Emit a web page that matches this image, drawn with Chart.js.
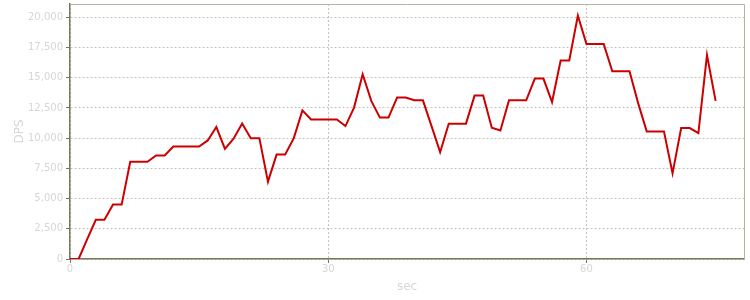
<!DOCTYPE html>
<html>
<head>
<meta charset="utf-8">
<script src="https://cdn.jsdelivr.net/npm/chart.js@4"></script>
<style>
	html, body { margin: 0; padding: 0; background: #fff; }
	#wrap { width: 750px; height: 300px; }
</style>
</head>
<body>
<div id="wrap"><canvas id="dpsChart"></canvas></div>
<script>
// seconds 0..75
const seconds = [
	0, 1, 2, 3, 4, 5, 6, 7, 8, 9, 10, 11, 12, 13, 14, 15, 16, 17, 18, 19,
	20, 21, 22, 23, 24, 25, 26, 27, 28, 29, 30, 31, 32, 33, 34, 35, 36, 37, 38, 39,
	40, 41, 42, 43, 44, 45, 46, 47, 48, 49, 50, 51, 52, 53, 54, 55, 56, 57, 58, 59,
	60, 61, 62, 63, 64, 65, 66, 67, 68, 69, 70, 71, 72, 73, 74, 75
];
const dps = [
	0, 0, 1650, 3250, 3250, 4500, 4500, 8050, 8050, 8050,
	8560, 8560, 9310, 9310, 9310, 9310, 9810, 10920, 9120, 9950,
	11220, 10000, 10000, 6400, 8640, 8640, 10000, 12300, 11550, 11550,
	11550, 11550, 11000, 12530, 15290, 13080, 11700, 11700, 13360, 13360,
	13130, 13130, 11000, 8840, 11200, 11200, 11200, 13520, 13520, 10860,
	10640, 13130, 13130, 13130, 14930, 14930, 12990, 16430, 16430, 20140,
	17790, 17790, 17790, 15540, 15540, 15540, 12900, 10560, 10560, 10560,
	7090, 10830, 10830, 10420, 16870, 13080
];
const xTicks = [0, 30, 60];
const yTicks = [0, 2500, 5000, 7500, 10000, 12500, 15000, 17500, 20000];

const labelFont = { family: "DejaVu Sans", size: 10 };
const labelColor = '#d6d6d6';
const axisColor = '#77775e';
const gridColor = '#c4c4b8';

// light frame on top and right of the plot
const framePlugin = {
	id: 'frame',
	afterDraw(chart) {
		const { ctx, chartArea: a } = chart;
		ctx.save();
		ctx.strokeStyle = '#b4b4a2';
		ctx.lineWidth = 1;
		ctx.beginPath();
		ctx.moveTo(a.left, a.top + 0.5);
		ctx.lineTo(a.right + 0.5, a.top + 0.5);
		ctx.lineTo(a.right + 0.5, a.bottom);
		ctx.stroke();
		ctx.restore();
	}
};

new Chart(document.getElementById('dpsChart'), {
	type: 'line',
	data: {
		datasets: [{
			label: 'DPS',
			data: seconds.map((s, i) => ({ x: s, y: dps[i] })),
			borderColor: '#cc0000',
			borderWidth: 2,
			pointRadius: 0,
			tension: 0,
			fill: false,
		}]
	},
	options: {
		responsive: true,
		maintainAspectRatio: false,
		animation: false,
		layout: { padding: { top: 4, right: 6, left: 0, bottom: 0 } },
		plugins: {
			legend: { display: false },
			tooltip: { enabled: false }
		},
		scales: {
			x: {
				type: 'linear',
				min: 0,
				max: 78.3,
				afterBuildTicks: scale => { scale.ticks = xTicks.map(v => ({ value: v })); },
				afterFit: scale => {
					scale.height = 41;
					scale.paddingLeft = 0;
					scale.paddingRight = 0;
				},
				ticks: { font: labelFont, color: labelColor, padding: 0, maxRotation: 0 },
				grid: { color: gridColor, tickColor: axisColor, tickLength: 4 },
				border: { color: axisColor, width: 1.5, dash: [2, 2] },
				title: { display: true, text: 'sec', font: { family: "DejaVu Sans", size: 12 }, color: labelColor, padding: { top: 0, bottom: 6 } }
			},
			y: {
				min: 0,
				max: 21100,
				afterBuildTicks: scale => { scale.ticks = yTicks.map(v => ({ value: v })); },
				afterFit: scale => {
					scale.width = 70;
					scale.paddingTop = 0;
					scale.paddingBottom = 0;
				},
				ticks: {
					font: labelFont,
					color: labelColor,
					padding: 3,
					callback: v => v.toLocaleString('en-US')
				},
				grid: { color: gridColor, tickColor: axisColor, tickLength: 4 },
				border: { color: axisColor, width: 1.5, dash: [2, 2] },
				title: { display: true, text: 'DPS', font: { family: "DejaVu Sans", size: 12 }, color: labelColor, padding: { top: 13, bottom: 4 } }
			}
		}
	},
	plugins: [framePlugin]
});
</script>
</body>
</html>
